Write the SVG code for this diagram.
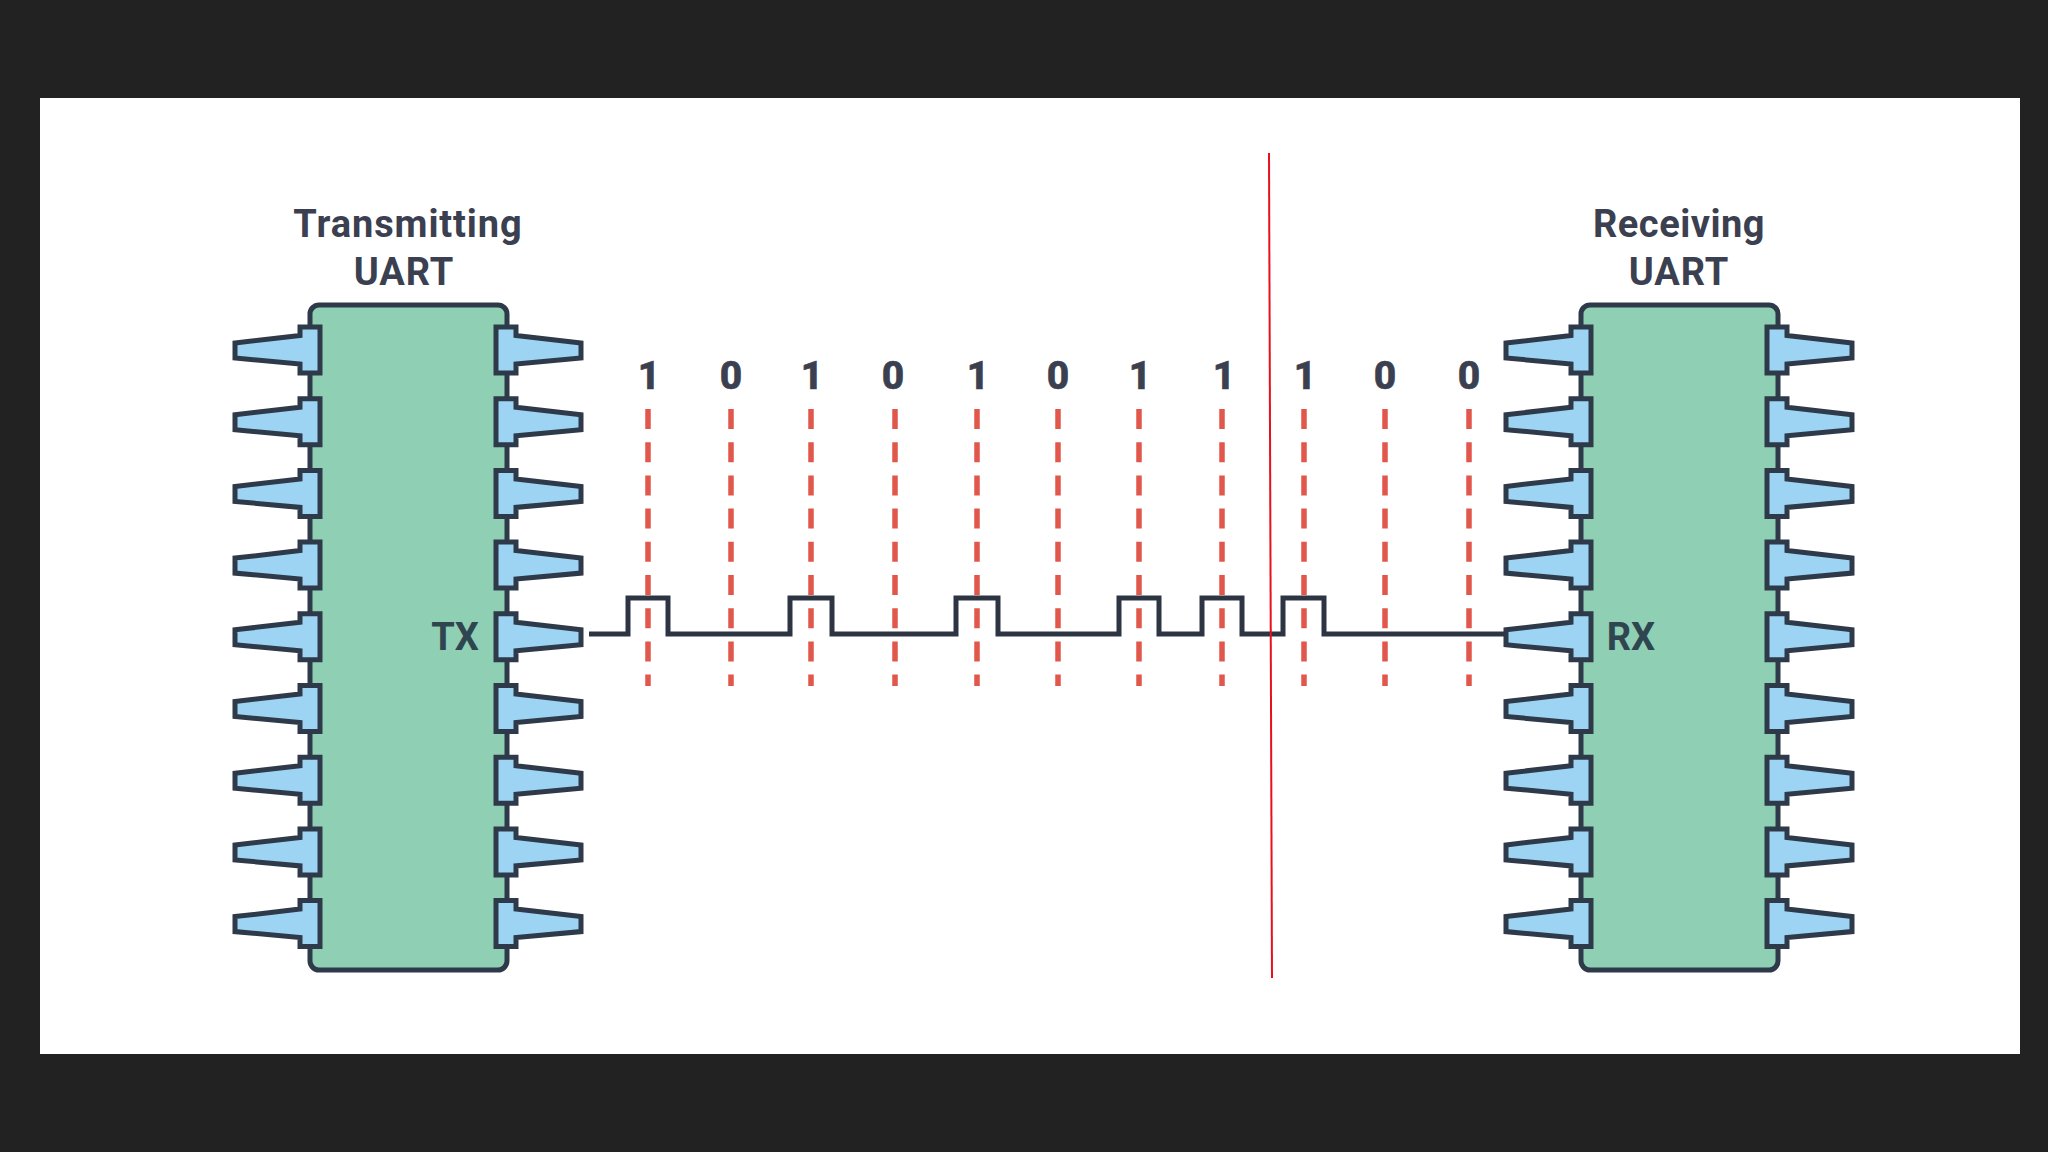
<svg xmlns="http://www.w3.org/2000/svg" xmlns:xlink="http://www.w3.org/1999/xlink" width="2048" height="1152" viewBox="0 0 2048 1152">
<style>
text{font-family:Roboto,"Liberation Sans",sans-serif;font-weight:700;fill:#3b4050;text-anchor:middle}
.t{font-size:38px;letter-spacing:.9px}
.r{letter-spacing:.5px}
.d{font-size:39px;font-weight:800;stroke:#3b4050;stroke-width:.6px}
.p{font-size:38px;fill:#2f4550}
.body{fill:#8fcfb3;stroke:#2e3a4a;stroke-width:5}
.pin{fill:#9dd4f3;stroke:#2e3a4a;stroke-width:5;stroke-linejoin:miter}
.dash{stroke:#e2574c;stroke-width:5.5;stroke-dasharray:20 13.2;fill:none}
.sig{fill:none;stroke:#2e3542;stroke-width:5}
</style>
<defs>
<path id="pl" class="pin" d="M235 343 L300 335.500 V327 H320 V373 H300 V364 L235 358 Z"/>
<path id="pr" class="pin" d="M581 343 L516 335.500 V327 H496 V373 H516 V364 L581 358 Z"/>
<g id="pins">
<use xlink:href="#pl"/><use xlink:href="#pr"/>
<use xlink:href="#pl" y="71.7"/><use xlink:href="#pr" y="71.7"/>
<use xlink:href="#pl" y="143.4"/><use xlink:href="#pr" y="143.4"/>
<use xlink:href="#pl" y="215.1"/><use xlink:href="#pr" y="215.1"/>
<use xlink:href="#pl" y="286.8"/><use xlink:href="#pr" y="286.8"/>
<use xlink:href="#pl" y="358.5"/><use xlink:href="#pr" y="358.5"/>
<use xlink:href="#pl" y="430.2"/><use xlink:href="#pr" y="430.2"/>
<use xlink:href="#pl" y="501.9"/><use xlink:href="#pr" y="501.9"/>
<use xlink:href="#pl" y="573.6"/><use xlink:href="#pr" y="573.6"/>
</g>
</defs>
<rect width="2048" height="1152" fill="#222222"/>
<rect x="40" y="98" width="1980" height="956" fill="#ffffff"/>
<g id="tx-uart">
<rect class="body" x="310" y="305" width="197" height="665" rx="9"/>
<use xlink:href="#pins"/>
<text class="t" x="408" y="237">Transmitting</text>
<text class="t" x="404" y="285">UART</text>
<text class="p" x="455" y="650">TX</text>
</g>
<g id="rx-uart">
<rect class="body" x="1581" y="305" width="197" height="665" rx="9"/>
<use xlink:href="#pins" x="1271"/>
<text class="t r" x="1679" y="237">Receiving</text>
<text class="t" x="1679" y="285">UART</text>
<text class="p" x="1631" y="650">RX</text>
</g>
<g id="connectors">
<g id="bit-lines">
<path class="dash" d="M648 409V686M731 409V686M811 409V686M895 409V686M977 409V686M1058 409V686M1139 409V686M1222 409V686M1304 409V686M1385 409V686M1469 409V686"/>
</g>
<path id="signal" class="sig" d="M589 634H628V598H668V634H790V598H832V634H956V598H998V634H1119V598H1159V634H1202V598H1242V634H1283V598H1324V634H1505"/>
<line id="marker-line" x1="1269" y1="153" x2="1272" y2="978" stroke="#e8101c" stroke-width="2"/>
</g>
<g id="bits">
<text class="d" x="649" y="389">1</text>
<text class="d" x="731" y="389">0</text>
<text class="d" x="812" y="389">1</text>
<text class="d" x="893" y="389">0</text>
<text class="d" x="978" y="389">1</text>
<text class="d" x="1058" y="389">0</text>
<text class="d" x="1140" y="389">1</text>
<text class="d" x="1224" y="389">1</text>
<text class="d" x="1305" y="389">1</text>
<text class="d" x="1385" y="389">0</text>
<text class="d" x="1469" y="389">0</text>
</g>
</svg>
